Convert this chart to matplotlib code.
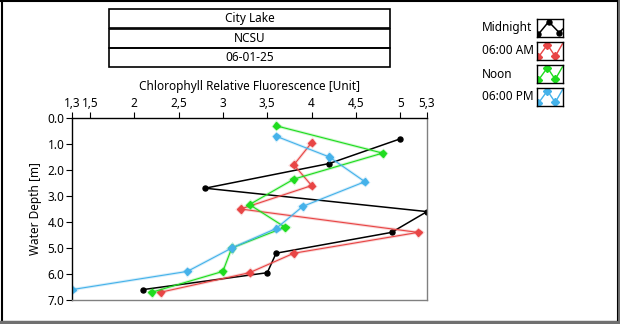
import numpy as np
import matplotlib
matplotlib.use("Agg")
import matplotlib.pyplot as plt
from matplotlib.patches import Rectangle
from matplotlib.lines import Line2D
import matplotlib.patheffects as pe

plt.rcParams['font.family'] = ['Noto Sans', 'DejaVu Sans']
plt.rcParams['font.size'] = 8.5

# fluorescence readings and depths for each sampling time
midnight_x = [5.0, 4.2, 2.8, 5.3, 4.9, 3.6, 3.5, 2.1]
midnight_d = [0.8, 1.75, 2.7, 3.6, 4.4, 5.2, 5.95, 6.6]
am_x = [4.0, 3.8, 4.0, 3.2, 5.2, 3.8, 3.3, 2.3]
am_d = [0.95, 1.8, 2.6, 3.5, 4.4, 5.2, 5.95, 6.7]
noon_x = [3.6, 4.8, 3.8, 3.3, 3.7, 3.1, 3.0, 2.2]
noon_d = [0.3, 1.35, 2.35, 3.33, 4.2, 5.0, 5.9, 6.7]
pm_x = [3.6, 4.2, 4.6, 3.9, 3.6, 3.1, 2.6, 1.3]
pm_d = [0.7, 1.5, 2.45, 3.4, 4.25, 5.0, 5.9, 6.6]

series = [
    ("Midnight", midnight_x, midnight_d, "black", "o"),
    ("06:00 AM", am_x, am_d, "#e84545", "D"),
    ("Noon", noon_x, noon_d, "#1fdc1f", "D"),
    ("06:00 PM", pm_x, pm_d, "#45b2ea", "D"),
]

x_ticks = [1.3, 1.5, 2, 2.5, 3, 3.5, 4, 4.5, 5, 5.3]
x_labels = ["1,3", "1,5", "2", "2,5", "3", "3,5", "4", "4,5", "5", "5,3"]
y_ticks = [0, 1, 2, 3, 4, 5, 6, 7]
header = ["City Lake", "NCSU", "06-01-25"]

W, H = 620, 324
fig = plt.figure(figsize=(W / 100, H / 100), dpi=100)

def fx(px):
    return px / W

def fy(py):
    return 1 - py / H

ax = fig.add_axes([fx(72), fy(300), fx(427) - fx(72), fy(118) - fy(300)])
for name, xs, ds, col, mk in series:
    if col == "black":
        ax.plot(xs, ds, color=col, lw=1.1, marker=mk, ms=3.6)
    else:
        ax.plot(xs, ds, color=col, lw=0.8, marker=mk, ms=3.6,
                path_effects=[pe.Stroke(linewidth=2.2, foreground=col, alpha=0.22), pe.Normal()])

ax.set_xlim(1.3, 5.3)
ax.set_ylim(7, 0)
ax.xaxis.tick_top()
ax.xaxis.set_label_position("top")
ax.set_xticks(x_ticks)
ax.set_xticklabels(x_labels)
ax.set_yticks(y_ticks)
ax.set_yticklabels(["%.1f" % t for t in y_ticks])
ax.tick_params(direction="out", length=4, width=0.8, pad=1.5)
ax.set_xlabel("Chlorophyll Relative Fluorescence [Unit]", labelpad=5)
ax.set_ylabel("Water Depth [m]", labelpad=4)
for s in ["left", "top"]:
    ax.spines[s].set_color("black")
    ax.spines[s].set_linewidth(1)
for s in ["right", "bottom"]:
    ax.spines[s].set_color("#808080")
    ax.spines[s].set_linewidth(1)

# header boxes
rows = [(9, 28), (28.5, 47.5), (48, 67)]
for (top, bot), txt in zip(rows, header):
    fig.patches.append(Rectangle((fx(109), fy(bot)), fx(390) - fx(109), fy(top) - fy(bot),
                                 transform=fig.transFigure, fill=False, ec="black", lw=1.2))
    fig.text(fx(249.5), fy((top + bot) / 2), txt, ha="center", va="center")

# legend with small swatches
sw_rows = [(19, 37), (42, 60), (65, 83), (88, 106)]
for (top, bot), (name, xs, ds, col, mk) in zip(sw_rows, series):
    fig.text(fx(482), fy((top + bot) / 2), name, ha="left", va="center")
    sax = fig.add_axes([fx(537), fy(bot), fx(563) - fx(537), fy(top) - fy(bot)])
    sax.set_xlim(0, 1)
    sax.set_ylim(0, 1)
    sax.set_xticks([])
    sax.set_yticks([])
    for s in sax.spines.values():
        s.set_linewidth(1)
    if col == "black":
        sax.plot([0.05, 0.45, 0.85, 1.0], [0.15, 0.85, 0.25, 0.45], color=col, lw=1.1)
        sax.plot([0.05, 0.45, 0.85], [0.15, 0.85, 0.25], ls="none", marker=mk, color=col, ms=3.6)
    else:
        sax.plot([0.05, 0.4, 0.7, 0.98], [0.15, 0.85, 0.2, 0.9], color=col, lw=1)
        sax.plot([0.05, 0.4, 0.7], [0.15, 0.85, 0.2], ls="none", marker=mk, color=col, ms=3.6)

# outer panel frame
fig.lines.append(Line2D([fx(1.5), fx(1.5)], [0, 1], transform=fig.transFigure, color="black", lw=1.5))
fig.lines.append(Line2D([0, 1], [fy(0.8), fy(0.8)], transform=fig.transFigure, color="black", lw=1.5))
fig.lines.append(Line2D([fx(618.5), fx(618.5)], [0, 1], transform=fig.transFigure, color="#707070", lw=2.5))
fig.lines.append(Line2D([0, 1], [fy(321.5), fy(321.5)], transform=fig.transFigure, color="#707070", lw=2.5))
fig.lines.append(Line2D([fx(616.5), fx(616.5)], [fy(320), 1], transform=fig.transFigure, color="black", lw=0.8))

fig.savefig("out.png", dpi=100)
